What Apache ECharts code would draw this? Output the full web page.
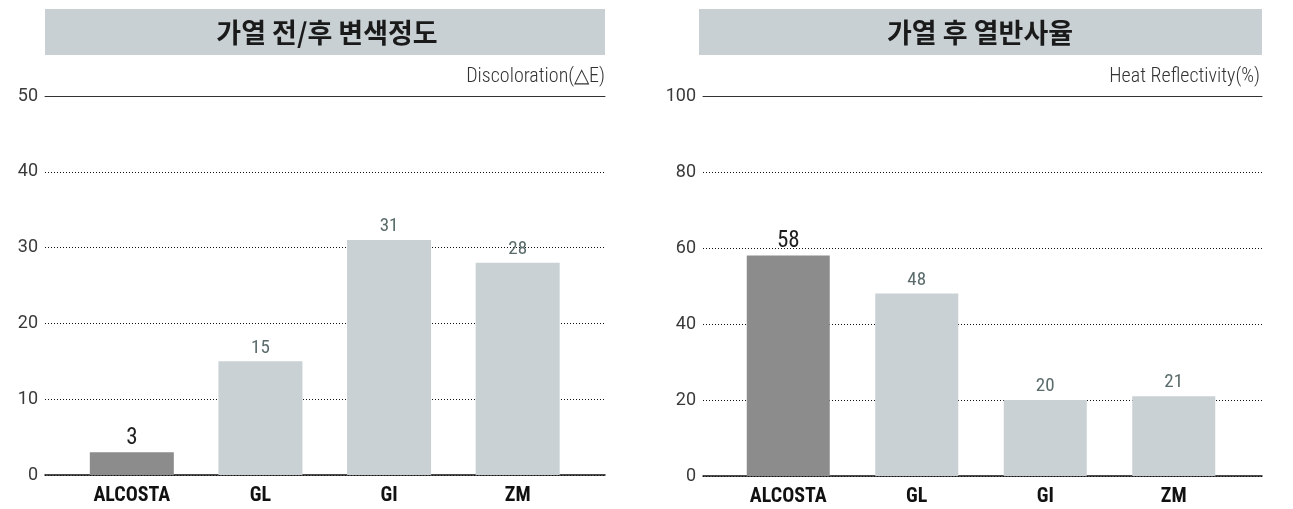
<!DOCTYPE html>
<html><head><meta charset="utf-8">
<script src="https://cdn.jsdelivr.net/npm/echarts@6/dist/echarts.min.js"></script>
<style>html,body{margin:0;padding:0;background:#fff}#c{width:1293px;height:509px}</style>
</head><body><div id="c"></div>
<script>
const categories = ['ALCOSTA', 'GL', 'GI', 'ZM'];
const discoloration = [3, 15, 31, 28];
const reflectivity = [58, 48, 20, 21];
const leftTitle = '가열 전/후 변색정도';
const rightTitle = '가열 후 열반사율';
const leftUnit = 'Discoloration(△E)';
const rightUnit = 'Heat Reflectivity(%)';
const leftAxis = { min: 0, max: 50, interval: 10 };
const rightAxis = { min: 0, max: 100, interval: 20 };

const COND = '"Roboto Condensed", "Liberation Sans", sans-serif';
const SANS = 'Roboto, "Liberation Sans", sans-serif';
const KR = '"Noto Sans CJK KR", sans-serif';
const HI = '#8b8c8b', LO = '#c9d1d4', BOX = '#c8d0d3';

function barData(vals) {
  return vals.map((v, i) => ({
    value: v,
    itemStyle: { color: i === 0 ? HI : LO },
    label: i === 0
      ? { fontSize: 23, color: '#1e1e1e', distance: 3 }
      : { fontSize: 19, color: '#5a6b6b', distance: 4 }
  }));
}

const chart = echarts.init(document.getElementById('c'), null, { renderer: 'canvas' });

const grids = [
  { left: 45, top: 96, width: 560, height: 379 },
  { left: 67.5, top: 96, width: 514.5, height: 379 },
  { left: 703, top: 96, width: 559, height: 380 },
  { left: 724, top: 96, width: 514, height: 380 }
];

function fullY(gi, ax) {
  return {
    type: 'value', gridIndex: gi, min: ax.min, max: ax.max, interval: ax.interval,
    axisLine: { show: false }, axisTick: { show: false },
    axisLabel: { fontFamily: SANS, fontWeight: 'normal', fontSize: 18, color: '#3a3a3a', margin: 7 },
    splitLine: { show: true, lineStyle: { type: [1, 2], color: '#111', width: 1 } }
  };
}
function hiddenY(gi, ax) {
  return {
    type: 'value', gridIndex: gi, min: ax.min, max: ax.max, interval: ax.interval,
    show: false, splitLine: { show: false }
  };
}
function lineAxis(gi, pos, width, color) {
  return { type: 'category', gridIndex: gi, data: categories, position: pos,
    axisLine: { lineStyle: { color: color, width: width } }, axisTick: { show: false },
    axisLabel: { show: false } };
}
function labelAxis(gi) {
  return { type: 'category', gridIndex: gi, data: categories,
    axisLine: { show: false }, axisTick: { show: false },
    axisLabel: { fontFamily: COND, fontWeight: 'bold', fontSize: 20, color: '#111', margin: 11 } };
}

const option = {
  animation: false,
  grid: grids,
  xAxis: [
    lineAxis(0, 'bottom', 1.5, '#111'), lineAxis(0, 'top', 1, '#333'), labelAxis(1),
    lineAxis(2, 'bottom', 1.5, '#111'), lineAxis(2, 'top', 1, '#333'), labelAxis(3)
  ],
  yAxis: [
    fullY(0, leftAxis), hiddenY(1, leftAxis),
    fullY(2, rightAxis), hiddenY(3, rightAxis)
  ],
  series: [
    { type: 'bar', xAxisIndex: 2, yAxisIndex: 1, data: barData(discoloration), barWidth: 84,
      label: { show: true, position: 'top', fontFamily: COND } },
    { type: 'bar', xAxisIndex: 5, yAxisIndex: 3, data: barData(reflectivity), barWidth: 83,
      label: { show: true, position: 'top', fontFamily: COND } }
  ],
  graphic: [
    { type: 'rect', shape: { x: 45, y: 9, width: 560, height: 46 }, style: { fill: BOX }, silent: true },
    { type: 'rect', shape: { x: 699, y: 9, width: 563, height: 46 }, style: { fill: BOX }, silent: true },
    { type: 'text', x: 327, y: 33, style: { text: leftTitle, font: 'bold 27px ' + KR, fill: '#1a1a1a', textAlign: 'center', textVerticalAlign: 'middle' } },
    { type: 'text', x: 980, y: 33, style: { text: rightTitle, font: 'bold 27px ' + KR, fill: '#1a1a1a', textAlign: 'center', textVerticalAlign: 'middle' } },
    { type: 'text', x: 605, y: 77, style: { text: leftUnit, font: '300 20px ' + COND, fill: '#333', textAlign: 'right', textVerticalAlign: 'middle' } },
    { type: 'text', x: 1260, y: 77, style: { text: rightUnit, font: '300 20px ' + COND, fill: '#333', textAlign: 'right', textVerticalAlign: 'middle' } }
  ]
};
chart.setOption(option);
</script></body></html>
